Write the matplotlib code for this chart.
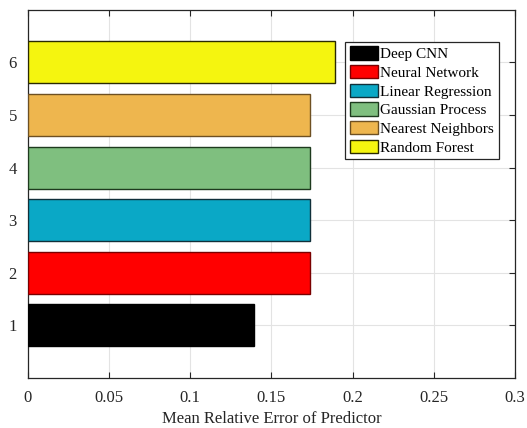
import matplotlib
matplotlib.use("Agg")
import matplotlib.pyplot as plt
from matplotlib.patches import Patch

plt.rcParams['font.family'] = ['Liberation Serif', 'DejaVu Serif']

positions = [1, 2, 3, 4, 5, 6]
labels = ["Deep CNN", "Neural Network", "Linear Regression",
          "Gaussian Process", "Nearest Neighbors", "Random Forest"]
errors = [0.139, 0.1735, 0.1735, 0.1735, 0.174, 0.189]
colors = ["#000000", "#FF0000", "#0AA8C6", "#7FBF7F", "#EEB64E", "#F5F50F"]
edges = ["#000000", "#7A0000", "#10303A", "#1E3A1E", "#6E5022", "#2A2A00"]

fig = plt.figure(figsize=(5.27, 4.28), dpi=100)
ax = fig.add_axes([0.053, 0.117, 0.924, 0.860])

ax.barh(positions, errors, height=0.8, color=colors, edgecolor=edges,
        linewidth=1.0, zorder=3)

ax.set_xlim(0, 0.3)
ax.set_ylim(0, 7)
ax.set_xticks([0, 0.05, 0.1, 0.15, 0.2, 0.25, 0.3])
ax.set_xticklabels(["0", "0.05", "0.1", "0.15", "0.2", "0.25", "0.3"])
ax.set_yticks(positions)
ax.grid(True, color="#E3E3E3", linewidth=0.8, zorder=0)
ax.set_axisbelow(True)
ax.tick_params(direction="in", top=True, right=True, length=4,
               labelsize=12, color="#262626", labelcolor="#262626")
ax.tick_params(axis="x", pad=9)
ax.tick_params(axis="y", pad=8)
for s in ax.spines.values():
    s.set_color("#262626")
    s.set_linewidth(0.9)
ax.set_xlabel("Mean Relative Error of Predictor", fontsize=12,
              color="#262626", labelpad=3)

handles = [Patch(facecolor=c, edgecolor=e, linewidth=1.0)
           for c, e in zip(colors, edges)]
leg = ax.legend(handles, labels, loc="upper right",
                bbox_to_anchor=(0.967, 0.913), fontsize=11,
                handlelength=1.85, handleheight=0.95, handletextpad=0.15,
                labelspacing=0.25, borderpad=0.3, borderaxespad=0.0,
                fancybox=False, framealpha=1, edgecolor="#262626")
leg.get_frame().set_linewidth(0.9)

fig.savefig("out.png", dpi=100)
